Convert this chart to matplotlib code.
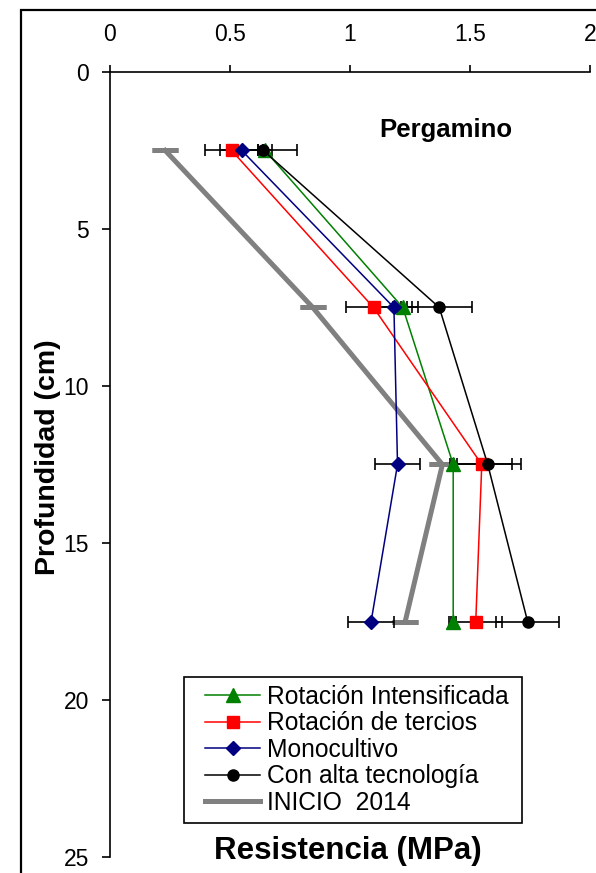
import matplotlib
matplotlib.use('Agg')
import matplotlib.pyplot as plt
import matplotlib.patches as patches
from matplotlib.ticker import FuncFormatter

plt.rcParams['font.family'] = ['Liberation Sans', 'DejaVu Sans']

depth = [2.5, 7.5, 12.5, 17.5]

rot_int = [0.646, 1.22, 1.43, 1.43]
rot_int_err = [0.03, 0.04, 0.015, 0.01]
rot_ter = [0.507, 1.098, 1.549, 1.524]
rot_ter_err = [0.111, 0.115, 0.125, 0.11]
mono = [0.549, 1.183, 1.198, 1.088]
mono_err = [0.09, 0.10, 0.095, 0.095]
alta = [0.639, 1.372, 1.574, 1.74]
alta_err = [0.139, 0.135, 0.14, 0.13]
inicio = [0.23, 0.845, 1.385, 1.23]

labels = ['Rotación Intensificada', 'Rotación de tercios', 'Monocultivo',
          'Con alta tecnología', 'INICIO  2014']

fig = plt.figure(figsize=(5.96, 8.73), dpi=100)
ax = fig.add_axes([110 / 596, 1 - 857 / 873, 480 / 596, 785 / 873])

# starting profile: thick gray line, flat caps at each depth
ax.errorbar(inicio, depth, yerr=[0, 0, 0, 0], color='#808080', lw=3.6,
            capsize=9.5, capthick=3.6, zorder=2)
ax.plot([], [], color='#808080', lw=3.6, label=labels[4])

series = [
    (rot_int, rot_int_err, '#008000', '^', 9.5, labels[0]),
    (rot_ter, rot_ter_err, '#FF0000', 's', 8, labels[1]),
    (mono, mono_err, '#000080', 'D', 7, labels[2]),
    (alta, alta_err, 'black', 'o', 8, labels[3]),
]
for vals, err, col, mk, ms, lab in series:
    ax.errorbar(vals, depth, xerr=err, fmt='none', ecolor='black',
                elinewidth=1.2, capsize=4.5, capthick=1.2, zorder=3)
for vals, err, col, mk, ms, lab in series:
    ax.plot(vals, depth, color=col, lw=1.1, marker=mk, ms=ms,
            mec=col, mfc=col, label=lab, zorder=4)

ax.set_xlim(0, 2)
ax.set_ylim(25, 0)
ax.set_xticks([0, 0.5, 1, 1.5, 2])
ax.set_yticks([0, 5, 10, 15, 20, 25])
ax.xaxis.set_major_formatter(FuncFormatter(lambda v, p: f'{v:g}'))
ax.xaxis.tick_top()
ax.spines['right'].set_visible(False)
ax.spines['bottom'].set_visible(False)
ax.spines['top'].set_linewidth(1.2)
ax.spines['left'].set_linewidth(1.2)
ax.tick_params(axis='x', direction='out', length=5, width=1.2, labelsize=16.5, pad=14)
ax.tick_params(axis='y', direction='out', length=6, width=1.2, labelsize=16.5, pad=9)

ax.text(1.40, 2.07, 'Pergamino', ha='center', va='baseline',
        fontsize=18.5, fontweight='bold')

fig.text(48 / 596, 1 - 457 / 873, 'Profundidad (cm)', rotation=90,
         ha='center', va='center', fontsize=20.5, fontweight='bold')
fig.text(348 / 596, 1 - 851 / 873, 'Resistencia (MPa)', ha='center',
         va='center', fontsize=22.5, fontweight='bold')

handles, labs = ax.get_legend_handles_labels()
order = [labs.index(l) for l in labels]
leg = ax.legend([handles[i] for i in order], [labs[i] for i in order],
                loc='upper left', bbox_to_anchor=(205 / 596, 1 - 685 / 873),
                bbox_transform=fig.transFigure, borderaxespad=0, borderpad=0,
                fontsize=17.7, frameon=False, numpoints=1, handlelength=2.24,
                handletextpad=0.28, labelspacing=0.1)

# legend box
fig.add_artist(patches.Rectangle((184 / 596, 1 - 823 / 873), 338 / 596, 146 / 873,
                                 transform=fig.transFigure, fill=False,
                                 edgecolor='black', lw=1.2))

# outer frame around the figure
fig.add_artist(patches.Rectangle((20.5 / 596, -0.05), 1.0, 1.05 - 10.5 / 873,
                                 transform=fig.transFigure, fill=False,
                                 edgecolor='black', lw=1.6))

fig.savefig('out.png', dpi=100)
